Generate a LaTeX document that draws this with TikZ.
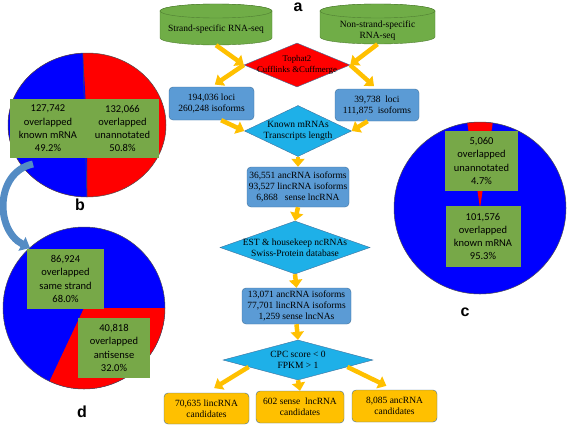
\documentclass[tikz,border=0pt]{standalone}
\usepackage{fontspec}
\setmainfont{Liberation Serif}
\newfontfamily\piefont{Carlito}
\newfontfamily\tagfont{Liberation Sans}
\usetikzlibrary{shapes.geometric,arrows.meta}
\definecolor{cylgreen}{RGB}{112,173,71}
\definecolor{cylline}{RGB}{80,126,50}
\definecolor{boxblue}{RGB}{91,155,213}
\definecolor{boxline}{RGB}{65,113,156}
\definecolor{diacyan}{RGB}{30,176,232}
\definecolor{candyellow}{RGB}{255,192,0}
\definecolor{flowyellow}{RGB}{255,192,0}
\definecolor{piegreen}{RGB}{119,168,72}
\definecolor{bendblue}{RGB}{84,140,196}

\begin{document}
\begin{tikzpicture}[x=1pt,y=-1pt,
  every node/.style={font=\fontsize{9.5}{11}\selectfont, align=center},
  can/.style={draw=cylline, fill=cylgreen},
  cantext/.style={rectangle, inner sep=0pt},
  bluebox/.style={rectangle, rounded corners=4pt, draw=boxline, fill=boxblue, inner sep=0pt},
  candbox/.style={rectangle, rounded corners=4pt, draw=boxline, fill=candyellow, inner sep=0pt},
  choice/.style={diamond, draw=boxline, fill=diacyan, inner sep=-6pt},
  piebox/.style={rectangle, fill=piegreen, inner sep=0pt, font=\piefont\fontsize{10.5}{13.3}\selectfont},
  pieline/.style={draw=black!70, line width=0.5pt},
  flow/.style={draw=flowyellow, line width=4.5pt, -{Triangle[width=13pt,length=8pt]}},
  bluecurve/.style={draw=bendblue, line width=7pt, -{Triangle[width=15pt,length=9pt]}},
  tag/.style={font=\tagfont\bfseries\fontsize{16}{18}\selectfont}]
\useasboundingbox (0,0) rectangle (567,426);

% pie b
\coordinate (bc) at (87,125);
\fill[red] (bc) ellipse[x radius=79, y radius=72];
\fill[blue] (bc) -- +(-93:79 and 72) arc[start angle=-93, end angle=-270, x radius=79, y radius=72] -- cycle;
\draw[pieline] (bc) ellipse[x radius=79, y radius=72];
\draw[pieline] (bc) +(-93:79 and 72) -- +(-270:79 and 72);
\node[piebox, minimum width=76pt, minimum height=59pt] (bknown) at (48,128.5) {127,742\\overlapped\\known mRNA\\49.2\%};
\node[piebox, minimum width=73pt, minimum height=59pt] (bunann) at (122.5,128.5) {132,066\\overlapped\\unannotated\\50.8\%};
\node[tag] (btag) at (80,205) {b};

% pie d
\coordinate (dc) at (84,308);
\fill[blue] (dc) circle[radius=81];
\fill[red] (dc) -- +(0:81) arc[start angle=0, end angle=115.2, radius=81] -- cycle;
\draw[pieline] (dc) circle[radius=81];
\node[piebox, minimum width=77pt, minimum height=60pt] (dsame) at (65.5,279) {86,924\\overlapped\\same strand\\68.0\%};
\node[piebox, minimum width=72pt, minimum height=60pt] (danti) at (114,348) {40,818\\overlapped\\antisense\\32.0\%};
\node[tag] (dtag) at (82,412) {d};

% pie c
\coordinate (cc) at (480,208);
\fill[blue] (cc) circle[radius=86];
\fill[red] (cc) -- +(-81.5:86) arc[start angle=-81.5, end angle=-98.5, radius=86] -- cycle;
\draw[pieline] (cc) circle[radius=86];
\node[piebox, minimum width=73pt, minimum height=60pt] (cunann) at (481.5,161) {5,060\\overlapped\\unannotated\\4.7\%};
\node[piebox, minimum width=75pt, minimum height=61pt] (cknown) at (483,236.5) {101,576\\overlapped\\known mRNA\\95.3\%};
\node[tag] (ctag) at (465,312) {c};

% b to d
\coordinate (bfrom) at (33,164);
\coordinate (dto) at (30,248);
\draw[bluecurve] (bfrom) .. controls (-5,172) and (-5,230) .. (dto);

% pipeline
\node[tag] (atag) at (298,7) {a};
\filldraw[can] (160,11) -- (160,38) arc[start angle=180, end angle=0, x radius=56, y radius=7] -- (272,11) arc[start angle=0, end angle=-180, x radius=56, y radius=7] -- cycle;
\draw[can] (216,11) ellipse[x radius=56, y radius=7];
\filldraw[can] (320,11) -- (320,37) arc[start angle=180, end angle=0, x radius=57.5, y radius=7] -- (435,11) arc[start angle=0, end angle=-180, x radius=57.5, y radius=7] -- cycle;
\draw[can] (377.5,11) ellipse[x radius=57.5, y radius=7];
\node[cantext, minimum width=112pt, minimum height=32pt] (strand) at (216,29) {Strand-specific RNA-seq};
\node[cantext, minimum width=115pt, minimum height=27pt] (nonstrand) at (377.5,30.5) {Non-strand-specific\\RNA-seq};
\node[diamond, aspect=2.41, draw=boxline, fill=red, inner sep=-6pt, minimum width=106pt, minimum height=44pt, font=\fontsize{8.8}{11}\selectfont] (tophat) at (297,65) {Tophat2\\Cufflinks \&Cuffmerge};
\node[bluebox, minimum width=85pt, minimum height=33pt] (loci1) at (211.5,103.5) {194,036 loci\\260,248 isoforms};
\node[bluebox, minimum width=84pt, minimum height=32pt] (loci2) at (377,105) {39,738~ loci\\111,875~ isoforms};
\node[choice, aspect=2.1, minimum width=107pt, minimum height=51pt] (known) at (298,131) {Known mRNAs\\Transcripts length};
\node[bluebox, minimum width=102pt, minimum height=40pt] (iso1) at (298,187) {36,551 ancRNA isoforms\\93,527 lincRNA isoforms\\6,868~~ sense lncRNA};
\node[choice, aspect=2.83, minimum width=150pt, minimum height=53pt] (est) at (295,247.5) {EST \& housekeep ncRNAs\\Swiss-Protein database};
\node[bluebox, minimum width=109pt, minimum height=36pt] (iso2) at (296.5,306) {13,071 ancRNA isoforms\\77,701 lincRNA isoforms\\1,259 sense lncNAs};
\node[choice, aspect=3.75, minimum width=150pt, minimum height=40pt] (cpc) at (298,360) {CPC score < 0\\FPKM > 1};
\node[candbox, minimum width=85pt, minimum height=31pt] (cand1) at (206.5,408.5) {70,635 lincRNA\\candidates};
\node[candbox, minimum width=88pt, minimum height=32pt] (cand2) at (300,407) {602 sense~ lncRNA\\candidates};
\node[candbox, minimum width=85pt, minimum height=32pt] (cand3) at (394.5,406) {8,085 ancRNA\\candidates};

\draw[flow] (strand.south) -- (tophat.west);
\draw[flow] (nonstrand.south) -- (tophat.east);
\draw[flow, shorten >=4pt] (tophat.west) -- (loci1.north);
\draw[flow, shorten >=4pt] (tophat.east) -- (loci2.north);
\draw[flow] (loci1.-60) -- (known.west);
\draw[flow] (loci2.-120) -- (known.east);
\draw[flow] (known.south) -- (iso1.north);
\draw[flow] (iso1.south) -- (est.north);
\draw[flow] (est.south) -- (iso2.north);
\draw[flow] (iso2.south) -- (cpc.north);
\draw[flow, shorten >=9pt] (cpc.188) -- (cand1.north);
\draw[flow] (cpc.south) -- (cand2.north);
\draw[flow, shorten >=9pt] (cpc.-8) -- (cand3.north);
\end{tikzpicture}
\end{document}
